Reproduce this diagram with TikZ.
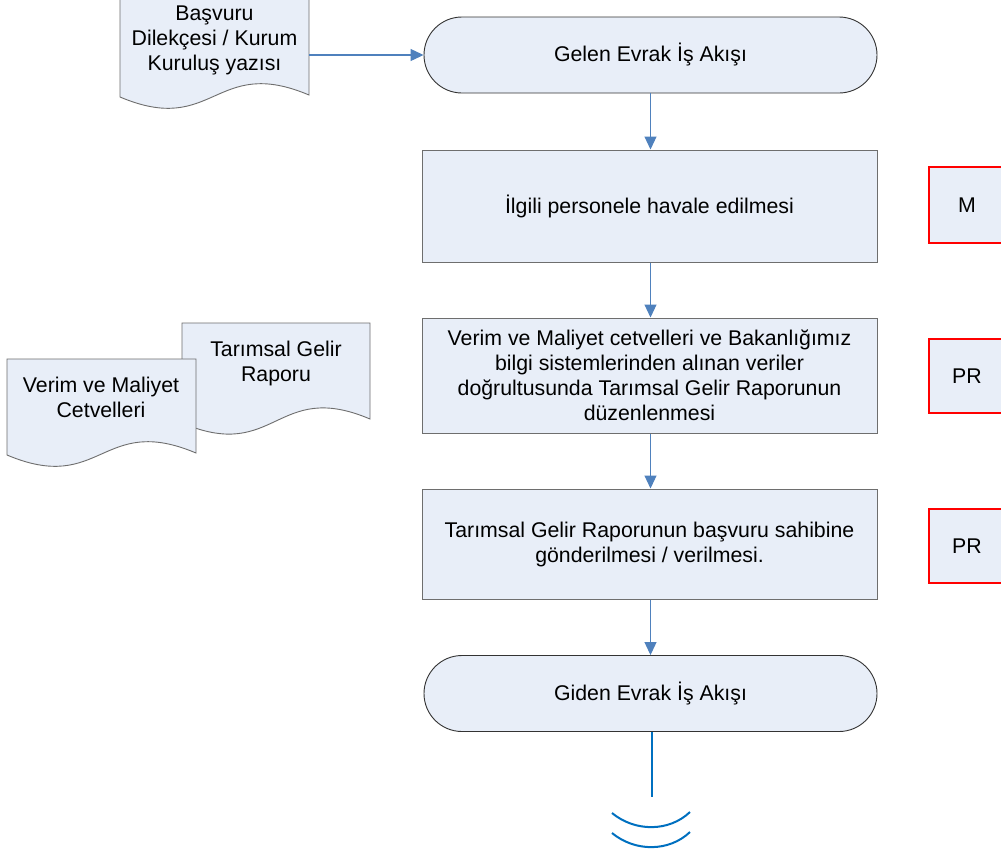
\documentclass[tikz,border=0pt]{standalone}
\usepackage{fontspec}
\setmainfont{Liberation Sans}
\usetikzlibrary{arrows.meta}
\definecolor{boxfill}{HTML}{E8EEF8}
\definecolor{arrowblue}{HTML}{4F81BD}
\definecolor{offblue}{HTML}{0070C0}
\definecolor{edgegray}{HTML}{6E6E6E}
\begin{document}
\begin{tikzpicture}[x=1pt,y=-1pt,
  every node/.style={font=\fontsize{21.3}{25}\selectfont, align=center, text=black, inner sep=0pt},
  term/.style={draw=black!80, fill=boxfill, line width=0.9pt, rounded corners=38pt, minimum width=453pt, minimum height=76pt},
  proc/.style={draw=edgegray, fill=boxfill, line width=1pt, minimum width=455pt},
  redbox/.style={draw=red, fill=boxfill, line width=2.6pt, minimum width=76pt},
  docshape/.style={draw=edgegray, fill=boxfill, line width=0.9pt},
  arr/.style={draw=arrowblue, line width=1.1pt, -{Triangle[length=13pt,width=12pt]}},
  offline/.style={draw=offblue, line width=2pt}]
\clip (0,0) rectangle (1001,860);
\fill[white] (0,0) rectangle (1001,860);

% documents
\filldraw[docshape] (120,-10) -- (309,-10) -- (309,95) .. controls (214.5,55) and (214.5,137) .. (120,97) -- cycle;
\node (basvuru) at (214.5,40) [minimum width=189pt] {Başvuru\\Dilekçesi / Kurum\\Kuruluş yazısı};

\filldraw[docshape] (182,323) -- (370,323) -- (370,419) .. controls (276,379) and (276,463) .. (182,423) -- cycle;
\node (tarimsal) at (276,363) {Tarımsal Gelir\\Raporu};

\filldraw[docshape] (7,359) -- (196,359) -- (196,453) .. controls (101.5,413) and (101.5,495) .. (7,455) -- cycle;
\node (verim) at (101,397) {Verim ve Maliyet\\Cetvelleri};

% main flow
\node[term] (gelen) at (650.5,55) {Gelen Evrak İş Akışı};
\node[proc, minimum height=112pt] (p1) at (649.5,206) {İlgili personele havale edilmesi};
\node[proc, minimum height=115pt] (p2) at (649.5,375.5) {Verim ve Maliyet cetvelleri ve Bakanlığımız\\bilgi sistemlerinden alınan veriler\\doğrultusunda Tarımsal Gelir Raporunun\\düzenlenmesi};
\node[proc, minimum height=110pt] (p3) at (649.5,544) {Tarımsal Gelir Raporunun başvuru sahibine\\gönderilmesi / verilmesi.};
\node[term] (giden) at (650.5,693.5) {Giden Evrak İş Akışı};

% responsibility boxes
\node[redbox, minimum height=76pt] (rM) at (967,205) {M};
\node[redbox, minimum height=74pt] (rP1) at (967,376) {PR};
\node[redbox, minimum height=74pt] (rP2) at (967,546) {PR};

% connectors
\draw[arr] (basvuru.east |- gelen.west) -- (gelen.west);
\draw[arr] (gelen.south) -- (gelen.south |- p1.north);
\draw[arr] (gelen.south |- p1.south) -- (gelen.south |- p2.north);
\draw[arr] (gelen.south |- p2.south) -- (gelen.south |- p3.north);
\draw[arr] (gelen.south |- p3.south) -- (giden.north);

% off-page continuation
\coordinate (offend) at (651.5,797);
\draw[offline] (giden.south -| offend) -- (offend);
\draw[offline] (612,813) .. controls (635,832) and (669,832) .. (690,812);
\draw[offline] (612,833) .. controls (635,852) and (669,852) .. (690,832);
\end{tikzpicture}
\end{document}
